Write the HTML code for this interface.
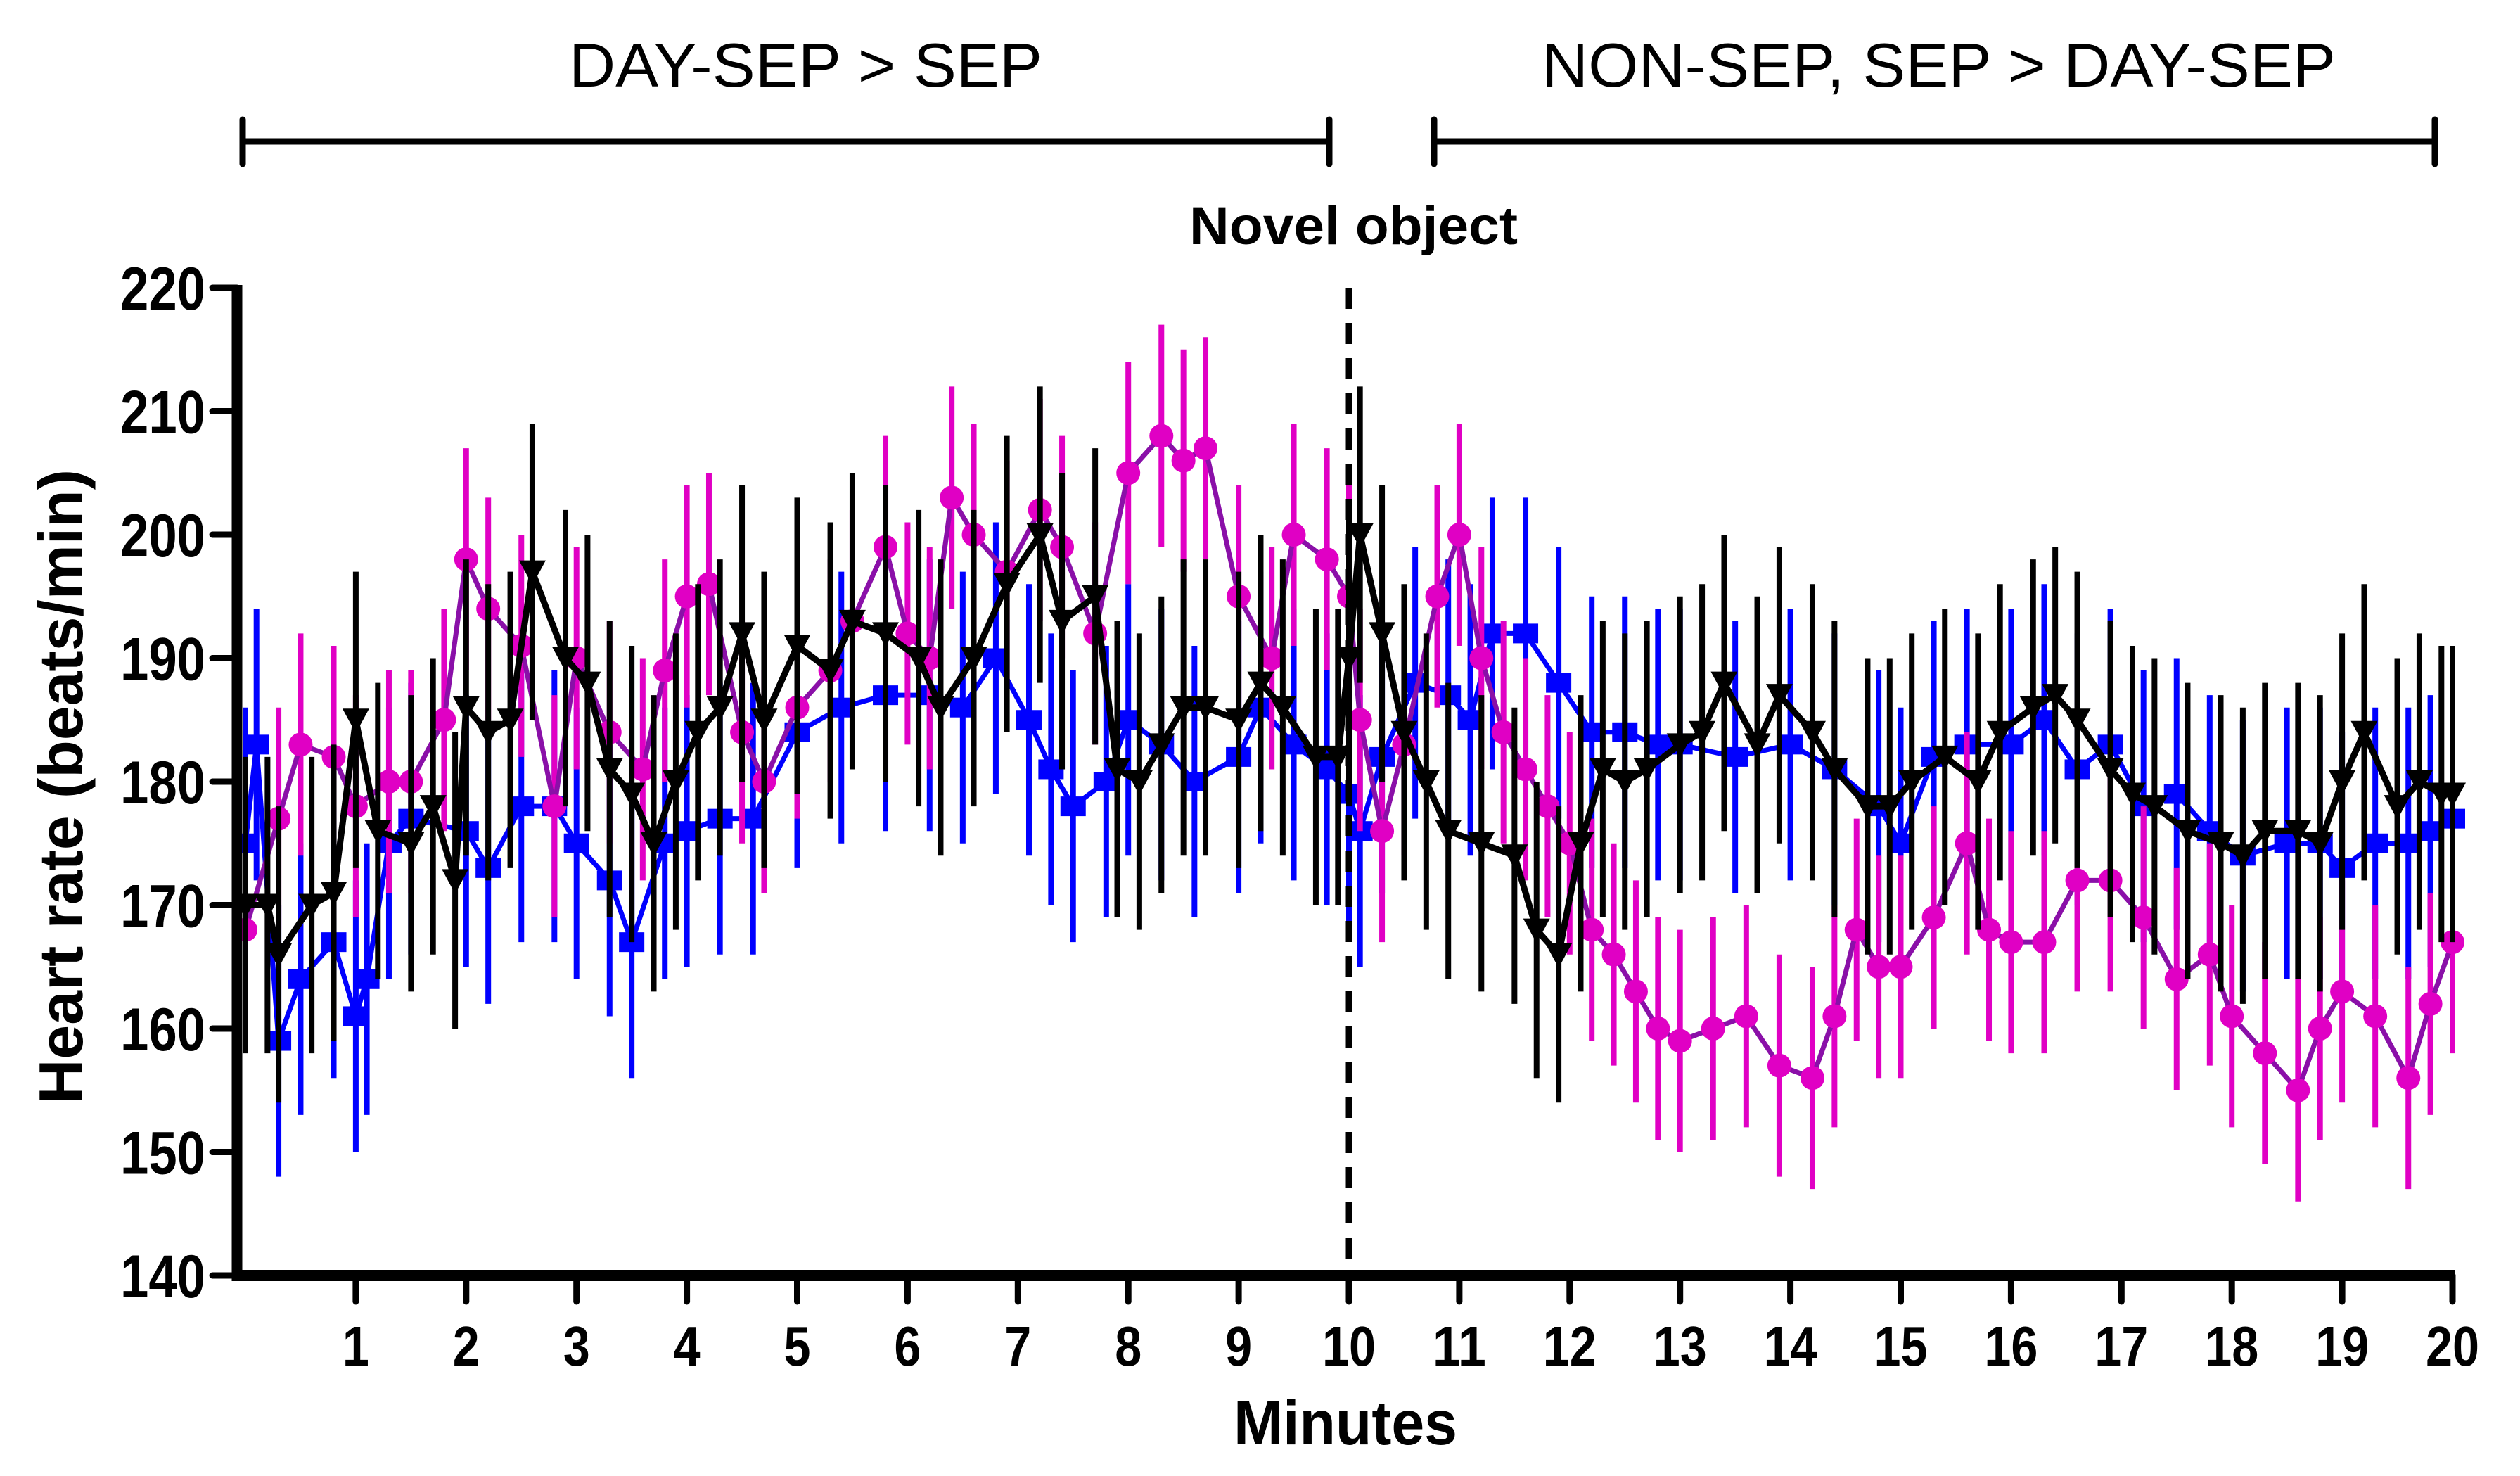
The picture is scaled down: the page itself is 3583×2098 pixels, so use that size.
<!DOCTYPE html>
<html><head><meta charset="utf-8"><style>
html,body{margin:0;padding:0;background:#fff;}
svg{display:block;}
text{font-family:"Liberation Sans",sans-serif;}
</style></head><body>
<svg id="chart" width="3583" height="2098" viewBox="0 0 3583 2098" xmlns="http://www.w3.org/2000/svg">
<g>
<text x="809" y="123" font-size="88" textLength="673" lengthAdjust="spacingAndGlyphs">DAY-SEP &gt; SEP</text>
<text x="2192" y="123" font-size="88" textLength="1129" lengthAdjust="spacingAndGlyphs">NON-SEP, SEP &gt; DAY-SEP</text>
<g stroke="#000" stroke-width="9" stroke-linecap="round">
<line x1="345" y1="201" x2="1890" y2="201"/><line x1="345" y1="170" x2="345" y2="233"/><line x1="1890" y1="170" x2="1890" y2="233"/></g>
<g stroke="#000" stroke-width="9" stroke-linecap="round">
<line x1="2039" y1="201" x2="3462" y2="201"/><line x1="2039" y1="170" x2="2039" y2="233"/><line x1="3462" y1="170" x2="3462" y2="233"/></g>
<text x="1691" y="347" font-size="76" font-weight="bold" textLength="467" lengthAdjust="spacingAndGlyphs">Novel object</text>
</g>
<g id="plot"></g>
<g id="axes"></g>
</svg>
<script>
const yTicks = [140,150,160,170,180,190,200,210,220];
const xTicks = [1,2,3,4,5,6,7,8,9,10,11,12,13,14,15,16,17,18,19,20];
const blueT = [0,0.1,0.3,0.5,0.8,1,1.1,1.3,1.5,2,2.2,2.5,2.8,3,3.3,3.5,3.8,4,4.3,4.6,5,5.4,5.8,6.2,6.5,6.8,7.1,7.3,7.5,7.8,8,8.3,8.6,9,9.2,9.5,9.8,10,10.1,10.3,10.6,10.9,11.1,11.3,11.6,11.9,12.2,12.5,12.8,13,13.5,14,14.4,14.8,15,15.3,15.6,16,16.3,16.6,16.9,17.2,17.5,17.8,18.1,18.5,18.8,19,19.3,19.6,19.8,20];
const blueV = [175,183,159,164,167,161,164,175,177,176,173,178,178,175,172,167,175,176,177,177,184,186,187,187,186,190,185,181,178,180,185,183,180,182,186,183,181,179,176,182,188,187,185,192,192,188,184,184,183,183,182,183,181,178,175,182,183,183,185,181,183,178,179,176,174,175,175,173,175,175,176,177];
const blueErr = 11;
const magT = [0,0.3,0.5,0.8,1,1.3,1.5,1.8,2,2.2,2.5,2.8,3,3.3,3.6,3.8,4,4.2,4.5,4.7,5,5.3,5.5,5.8,6,6.2,6.4,6.6,6.9,7.2,7.4,7.7,8,8.3,8.5,8.7,9,9.3,9.5,9.8,10,10.1,10.3,10.5,10.8,11,11.2,11.4,11.6,11.8,12,12.2,12.4,12.6,12.8,13,13.3,13.6,13.9,14.2,14.4,14.6,14.8,15,15.3,15.6,15.8,16,16.3,16.6,16.9,17.2,17.5,17.8,18,18.3,18.6,18.8,19,19.3,19.6,19.8,20];
const magV = [168,177,183,182,178,180,180,185,198,194,191,178,190,184,181,189,195,196,184,180,186,189,193,199,192,190,203,200,197,202,199,192,205,208,206,207,195,190,200,198,195,185,176,183,195,200,190,184,181,178,175,168,166,163,160,159,160,161,157,156,161,168,165,165,169,175,168,167,167,172,172,169,164,166,161,158,155,160,163,161,156,162,167];
const magErr = 9;
const blkT = [0,0.2,0.3,0.6,0.8,1,1.2,1.5,1.7,1.9,2,2.2,2.4,2.6,2.9,3.1,3.3,3.5,3.7,3.9,4.1,4.3,4.5,4.7,5,5.3,5.5,5.8,6.1,6.3,6.6,6.9,7.2,7.4,7.7,7.9,8.1,8.3,8.5,8.7,9,9.2,9.4,9.7,9.9,10,10.1,10.3,10.5,10.7,10.9,11.2,11.5,11.7,11.9,12.1,12.3,12.5,12.7,13,13.2,13.4,13.7,13.9,14.2,14.4,14.7,14.9,15.1,15.4,15.7,15.9,16.2,16.4,16.6,16.9,17.1,17.3,17.6,17.9,18.1,18.3,18.6,18.8,19,19.2,19.5,19.7,19.9,20];
const blkV = [170,170,166,170,171,185,176,175,178,172,186,184,185,197,190,188,181,179,175,180,184,186,192,185,191,189,193,192,190,186,190,196,200,193,195,181,180,183,186,186,185,188,186,182,182,190,200,192,184,180,176,175,174,168,166,175,181,180,181,183,184,188,183,187,184,181,178,178,180,182,180,184,186,187,185,181,179,178,176,175,174,176,176,175,180,184,178,180,179,179];
const blkErr = 12;

const X0 = 349, PXM = 156.9, Y0 = 1813, PXU = 17.55;
function xs(t){return X0 + t*PXM;}
function ys(v){return Y0 - (v-140)*PXU;}
const NS = 'http://www.w3.org/2000/svg';
const plot = document.getElementById('plot');
const axes = document.getElementById('axes');
function mk(tag, attrs, parent){const e=document.createElementNS(NS,tag);for(const k in attrs)e.setAttribute(k,attrs[k]);parent.appendChild(e);return e;}

function series(name, T, V, err, col, lineCol, shape){
  const g = mk('g', {}, plot);
  
  
  T.forEach((t,i)=>{
    const b = mk('line',{x1:xs(t),x2:xs(t),y1:ys(V[i]-err),y2:ys(V[i]+err),stroke:col,'stroke-width':8}, g);
    
    
  });
  const pts = T.map((t,i)=>xs(t)+','+ys(V[i])).join(' ');
  const pl = mk('polyline',{points:pts,fill:'none',stroke:lineCol,'stroke-width':shape==='tri'?9:7}, g);
  
  
  T.forEach((t,i)=>{
    const x=xs(t), y=ys(V[i]); let m;
    if(shape==='sq') m = mk('rect',{x:x-18,y:y-14,width:36,height:28,fill:col}, g);
    else if(shape==='circ') m = mk('circle',{cx:x,cy:y,r:17,fill:col}, g);
    else m = mk('polygon',{points:(x-19)+','+(y-16)+' '+(x+19)+','+(y-16)+' '+x+','+(y+19),fill:col}, g);
    
    
  });
}
series('blue-series', blueT, blueV, blueErr, '#0000ff', '#0000ff', 'sq');
series('magenta-series', magT, magV, magErr, '#e000c4', '#8a10a8', 'circ');
series('black-series', blkT, blkV, blkErr, '#000', '#000', 'tri');

const dl = mk('line',{x1:xs(10),x2:xs(10),y1:ys(220),y2:Y0,stroke:'#000','stroke-width':9,'stroke-dasharray':'30 20'}, axes);


const ya = mk('line',{x1:337,x2:337,y1:ys(220)-4,y2:Y0+8,stroke:'#000','stroke-width':15}, axes);


const xa = mk('line',{x1:330,x2:xs(20)+4,y1:Y0,y2:Y0,stroke:'#000','stroke-width':16}, axes);


yTicks.forEach(v=>{
  const tk = mk('line',{x1:302,x2:337,y1:ys(v),y2:ys(v),stroke:'#000','stroke-width':9,'stroke-linecap':'round'}, axes);
  
  
  const tx = mk('text',{x:292,y:ys(v)+31,'font-size':86,'font-weight':'bold','text-anchor':'end',textLength:121,lengthAdjust:'spacingAndGlyphs'}, axes);
  tx.textContent = v;
  
  
});
xTicks.forEach(t=>{
  const tk = mk('line',{x1:xs(t),x2:xs(t),y1:Y0,y2:1850,stroke:'#000','stroke-width':9,'stroke-linecap':'round'}, axes);
  
  
  const s = String(t);
  const tx = mk('text',{x:xs(t),y:1941,'font-size':80,'font-weight':'bold','text-anchor':'middle',textLength:s.length*38,lengthAdjust:'spacingAndGlyphs'}, axes);
  tx.textContent = s;
  
  
});
const xt = mk('text',{x:1754,y:2053,'font-size':89,'font-weight':'bold',textLength:318,lengthAdjust:'spacingAndGlyphs'}, axes);
xt.textContent = 'Minutes';


const yt = mk('text',{x:0,y:0,'font-size':88,'font-weight':'bold','text-anchor':'middle',textLength:902,lengthAdjust:'spacingAndGlyphs',transform:'translate(117,1118) rotate(-90)'}, axes);
yt.textContent = 'Heart rate (beats/min)';


</script>
</body></html>
